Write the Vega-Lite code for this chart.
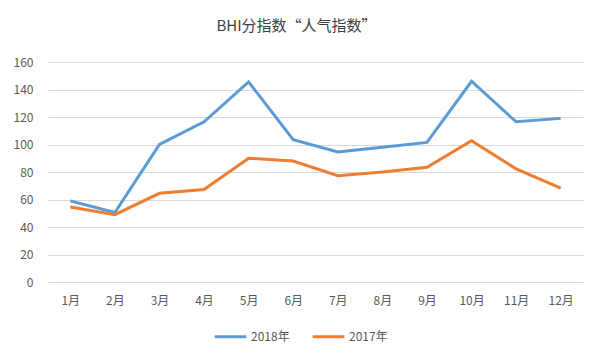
{
  "$schema": "https://vega.github.io/schema/vega-lite/v6.json",
  "autosize": {"type": "none"},
  "width": 535,
  "height": 220,
  "padding": {"left": 48, "top": 62, "right": 17, "bottom": 78},
  "background": "white",
  "title": {
    "text": "BHI分指数“人气指数”",
    "font": "Noto Sans CJK SC",
    "fontSize": 15,
    "fontWeight": "normal",
    "color": "#404040",
    "anchor": "middle",
    "dx": -19,
    "offset": 22
  },
  "config": {
    "view": {"stroke": null},
    "font": "Noto Sans CJK SC"
  },
  "data": {
    "values": [
      {"month": "1月", "year": "2018年", "value": 59},
      {"month": "2月", "year": "2018年", "value": 50.5},
      {"month": "3月", "year": "2018年", "value": 100},
      {"month": "4月", "year": "2018年", "value": 116.5},
      {"month": "5月", "year": "2018年", "value": 145.5},
      {"month": "6月", "year": "2018年", "value": 103.5},
      {"month": "7月", "year": "2018年", "value": 94.5},
      {"month": "8月", "year": "2018年", "value": 98},
      {"month": "9月", "year": "2018年", "value": 101.5},
      {"month": "10月", "year": "2018年", "value": 146},
      {"month": "11月", "year": "2018年", "value": 116.5},
      {"month": "12月", "year": "2018年", "value": 119},
      {"month": "1月", "year": "2017年", "value": 54.5},
      {"month": "2月", "year": "2017年", "value": 49},
      {"month": "3月", "year": "2017年", "value": 64.5},
      {"month": "4月", "year": "2017年", "value": 67.3},
      {"month": "5月", "year": "2017年", "value": 90},
      {"month": "6月", "year": "2017年", "value": 88},
      {"month": "7月", "year": "2017年", "value": 77.3},
      {"month": "8月", "year": "2017年", "value": 80},
      {"month": "9月", "year": "2017年", "value": 83.5},
      {"month": "10月", "year": "2017年", "value": 102.8},
      {"month": "11月", "year": "2017年", "value": 82.3},
      {"month": "12月", "year": "2017年", "value": 68.3}
    ]
  },
  "mark": {"type": "line", "strokeWidth": 3, "strokeJoin": "miter", "strokeCap": "butt"},
  "encoding": {
    "x": {
      "field": "month",
      "type": "ordinal",
      "sort": ["1月","2月","3月","4月","5月","6月","7月","8月","9月","10月","11月","12月"],
      "scale": {"type": "point", "padding": 0.5},
      "axis": {
        "title": null,
        "labelAngle": 0,
        "labelFontSize": 12,
        "labelColor": "#595959",
        "labelPadding": 13,
        "ticks": false,
        "domain": true,
        "domainColor": "#d9d9d9",
        "grid": false
      }
    },
    "y": {
      "field": "value",
      "type": "quantitative",
      "scale": {"domain": [0, 160], "nice": false},
      "axis": {
        "title": null,
        "values": [0,20,40,60,80,100,120,140,160],
        "labelFontSize": 12,
        "labelColor": "#595959",
        "labelPadding": 15,
        "ticks": false,
        "domain": false,
        "gridColor": "#d9d9d9",
        "gridWidth": 1
      }
    },
    "color": {
      "field": "year",
      "type": "nominal",
      "scale": {"domain": ["2018年", "2017年"], "range": ["#5B9BD5", "#ED7D31"]},
      "legend": {
        "title": null,
        "orient": "none",
        "direction": "horizontal",
        "legendX": 165,
        "legendY": 257,
        "symbolType": "stroke",
        "symbolSize": 1000,
        "symbolStrokeWidth": 3,
        "labelFontSize": 12,
        "labelColor": "#595959",
        "labelOffset": 3,
        "columnPadding": 16
      }
    }
  }
}
